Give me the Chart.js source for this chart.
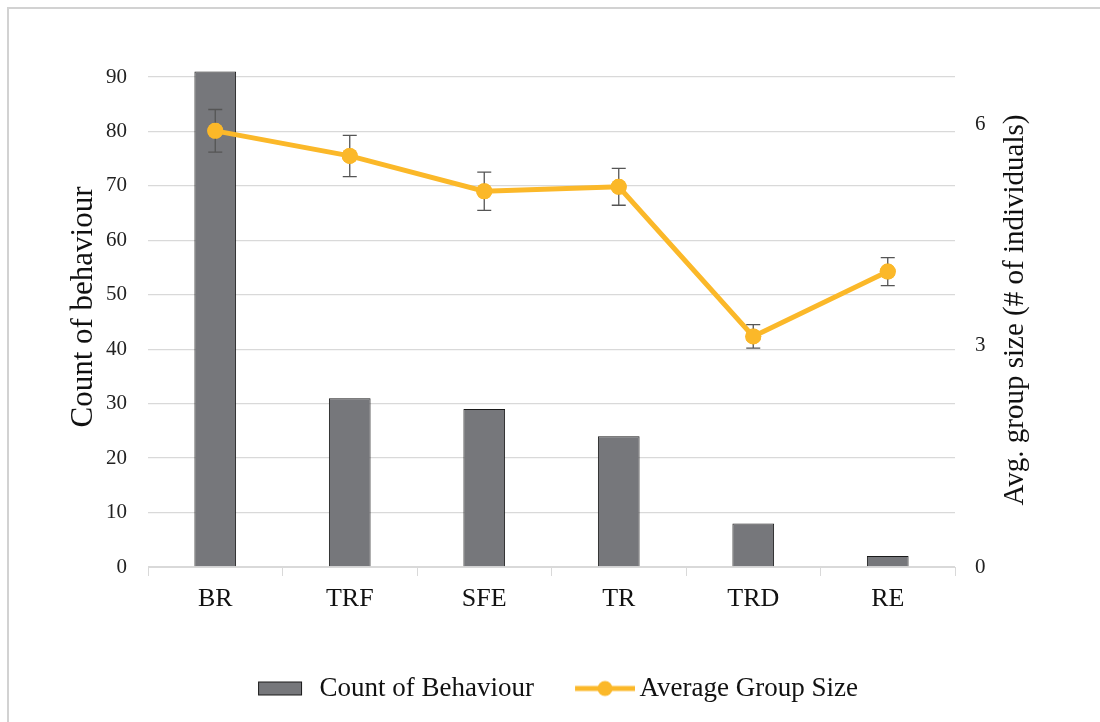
<!DOCTYPE html>
<html>
<head>
<meta charset="utf-8">
<script src="https://cdn.jsdelivr.net/npm/chart.js@4.4.0/dist/chart.umd.min.js"></script>
<style>
  html, body { margin: 0; padding: 0; background: #fff; overflow: hidden; }
  #wrap { position: relative; width: 1100px; height: 722px; }
  #frame { position: absolute; left: 7px; top: 7px; width: 1200px; height: 800px; border: 2px solid #d2d2d2; pointer-events: none; }
</style>
</head>
<body>
<div id="wrap">
  <canvas id="chart" width="1100" height="722"></canvas>
  <div id="frame"></div>
</div>
<script>
// categories and values
const categories = ['BR', 'TRF', 'SFE', 'TR', 'TRD', 'RE'];
const behaviourCounts = [91, 31, 29, 24, 8, 2];
const avgGroupSize = [5.92, 5.58, 5.10, 5.16, 3.13, 4.01];
const groupSizeError = [0.29, 0.28, 0.26, 0.25, 0.16, 0.19];
const countTicks = [0, 10, 20, 30, 40, 50, 60, 70, 80, 90];
const groupTicks = [0, 3, 6];

const serif = 'Liberation Serif';
const lineColor = '#FBB829';
const barColor = '#76777B';

// legend markers (100px wide canvases, centred on the legend box)
function barMarker() {
  const c = document.createElement('canvas');
  c.width = 100; c.height = 20;
  const ctx = c.getContext('2d');
  ctx.fillStyle = barColor;
  ctx.fillRect(43, 3, 44, 14);
  ctx.strokeStyle = '#1a1a1a';
  ctx.lineWidth = 1;
  ctx.strokeRect(43.5, 3.5, 43, 13);
  return c;
}
function lineMarker() {
  const c = document.createElement('canvas');
  c.width = 100; c.height = 20;
  const ctx = c.getContext('2d');
  ctx.strokeStyle = lineColor;
  ctx.lineWidth = 5;
  ctx.beginPath();
  ctx.moveTo(40, 10); ctx.lineTo(100, 10);
  ctx.stroke();
  ctx.fillStyle = lineColor;
  ctx.beginPath();
  ctx.arc(70, 10, 7.5, 0, Math.PI * 2);
  ctx.fill();
  return c;
}

// error bars on the line + axis titles
const extras = {
  id: 'extras',
  afterDatasetsDraw(chart) {
    const ctx = chart.ctx;
    const y1 = chart.scales.y1;
    const meta = chart.getDatasetMeta(1);
    ctx.save();
    ctx.strokeStyle = '#555';
    ctx.lineWidth = 1.3;
    meta.data.forEach((pt, i) => {
      const top = y1.getPixelForValue(avgGroupSize[i] + groupSizeError[i]);
      const bot = y1.getPixelForValue(avgGroupSize[i] - groupSizeError[i]);
      ctx.beginPath();
      ctx.moveTo(pt.x, top); ctx.lineTo(pt.x, bot);
      ctx.moveTo(pt.x - 7, top); ctx.lineTo(pt.x + 7, top);
      ctx.moveTo(pt.x - 7, bot); ctx.lineTo(pt.x + 7, bot);
      ctx.stroke();
    });
    ctx.restore();
    // points back on top of the error bars
    meta.data.forEach(p => p.draw(ctx, chart.chartArea));
  },
  afterDraw(chart) {
    const ctx = chart.ctx;
    ctx.save();
    ctx.fillStyle = '#111';
    ctx.textAlign = 'center';
    ctx.textBaseline = 'middle';
    ctx.font = '31px "' + serif + '"';
    ctx.translate(84, 307);
    ctx.rotate(-Math.PI / 2);
    ctx.fillText('Count of behaviour', 0, 0);
    ctx.restore();
    ctx.save();
    ctx.fillStyle = '#111';
    ctx.textAlign = 'center';
    ctx.textBaseline = 'middle';
    ctx.font = '29px "' + serif + '"';
    ctx.translate(1015, 310);
    ctx.rotate(-Math.PI / 2);
    ctx.fillText('Avg. group size (# of individuals)', 0, 0);
    ctx.restore();
  }
};

new Chart(document.getElementById('chart'), {
  type: 'bar',
  data: {
    labels: categories,
    datasets: [{
      type: 'bar',
      label: 'Count of Behaviour',
      data: behaviourCounts,
      backgroundColor: barColor,
      borderColor: '#1a1a1a',
      borderWidth: 1,
      barPercentage: 0.31,
      categoryPercentage: 1,
      clip: false,
      yAxisID: 'y',
      order: 1
    }, {
      type: 'line',
      label: 'Average Group Size',
      data: avgGroupSize,
      borderColor: lineColor,
      backgroundColor: lineColor,
      borderWidth: 5,
      pointRadius: 8,
      pointBorderWidth: 0,
      tension: 0,
      yAxisID: 'y1',
      order: 0
    }]
  },
  options: {
    responsive: false,
    animation: false,
    layout: { padding: { top: 77, bottom: 10, left: 0, right: 18 } },
    plugins: {
      tooltip: { enabled: false },
      legend: {
        display: true,
        position: 'bottom',
        labels: {
          usePointStyle: true,
          pointStyleWidth: 82,
          color: '#111',
          padding: 10,
          font: { family: serif, size: 27 },
          sort: (a, b) => a.datasetIndex - b.datasetIndex,
          generateLabels(chart) {
            const items = Chart.defaults.plugins.legend.labels.generateLabels(chart);
            items.forEach(it => {
              it.pointStyle = it.datasetIndex === 0 ? barMarker() : lineMarker();
            });
            return items;
          }
        }
      }
    },
    scales: {
      x: {
        offset: true,
        grid: { offset: true, drawOnChartArea: false, color: '#d9d9d9', tickLength: 9 },
        border: { color: '#d9d9d9' },
        ticks: { color: '#111', font: { family: serif, size: 26 }, padding: 8 },
        afterFit(scale) { scale.height = 98; }
      },
      y: {
        position: 'left',
        min: 0,
        max: 90,
        afterBuildTicks(scale) { scale.ticks = countTicks.map(v => ({ value: v })); },
        grid: { color: '#d9d9d9', lineWidth: 1.3, drawTicks: false },
        border: { display: false },
        ticks: { color: '#222', font: { family: serif, size: 21 }, padding: 21 },
        afterFit(scale) { scale.width = 148; }
      },
      y1: {
        position: 'right',
        min: 0,
        max: 6.651,
        afterBuildTicks(scale) { scale.ticks = groupTicks.map(v => ({ value: v })); },
        grid: { display: false, drawOnChartArea: false },
        border: { display: false },
        ticks: { color: '#222', font: { family: serif, size: 21 }, padding: 12 },
        afterFit(scale) { scale.width = 127; }
      }
    }
  },
  plugins: [extras]
});
</script>
</body>
</html>
